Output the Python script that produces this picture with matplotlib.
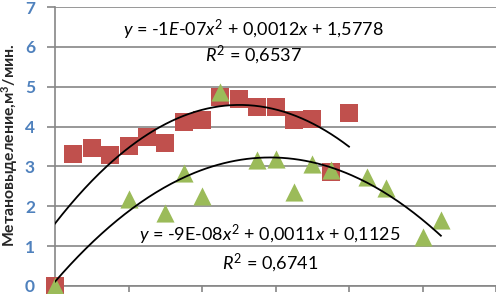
import numpy as np
import matplotlib
matplotlib.use("Agg")
import matplotlib.pyplot as plt

# Series 1 (red squares)
red_x = [0, 500, 1000, 1500, 2000, 2500, 3000, 3500, 4000, 4500, 5000,
         5500, 6000, 6500, 7000, 7500, 8000]
red_y = [0, 3.32, 3.46, 3.28, 3.52, 3.73, 3.58, 4.11, 4.17, 4.73, 4.69,
         4.48, 4.48, 4.17, 4.18, 2.86, 4.34]

# Series 2 (green triangles)
green_x = [0, 2000, 3000, 3500, 4000, 4500, 5500, 6000, 6500, 7000, 7500,
           8500, 9000, 10000, 10500]
green_y = [0, 2.19, 1.82, 2.83, 2.25, 4.86, 3.15, 3.19, 2.36, 3.07, 2.90,
           2.73, 2.47, 1.23, 1.65]

eq_red = "$y$ = -1$E$-07$x^2$ + 0,0012$x$ + 1,5778"
r2_red = "$R^2$ = 0,6537"
eq_green = "$y$ = -9E-08$x^2$ + 0,0011$x$ + 0,1125"
r2_green = "$R^2$ = 0,6741"

plt.rcParams['font.family'] = ['Lato', 'DejaVu Sans']
plt.rcParams['mathtext.fontset'] = 'custom'
plt.rcParams['mathtext.rm'] = 'Lato'
plt.rcParams['mathtext.it'] = 'Lato:italic'
plt.rcParams['mathtext.bf'] = 'Lato:bold'

fig = plt.figure(figsize=(4.96, 2.94), dpi=100)
ax = fig.add_axes([55 / 496, 8 / 294, 441 / 496, 279 / 294])

red = "#C0504D"
green = "#9BBB59"
grid = "#868686"

ax.scatter(red_x, red_y, marker="s", s=150, color=red, zorder=3,
           linewidths=0, clip_on=False)
ax.scatter(green_x, green_y, marker="^", s=170, color=green, zorder=4,
           linewidths=0, clip_on=False)

# polynomial trendlines (order 2)
for xs, ys in [(red_x, red_y), (green_x, green_y)]:
    c = np.polyfit(xs, ys, 2)
    xx = np.linspace(0, max(xs), 200)
    ax.plot(xx, np.polyval(c, xx), color="black", lw=1.3, zorder=5)

ax.set_xlim(0, 12000)
ax.set_ylim(0, 7)
ax.set_xticks(range(0, 12001, 2000))
ax.set_xticklabels([])
ax.set_yticks(range(0, 8))
ax.yaxis.grid(True, color=grid, lw=1.2)
ax.set_axisbelow(True)
for s in ["top", "right"]:
    ax.spines[s].set_visible(False)
for s in ["left", "bottom"]:
    ax.spines[s].set_color(grid)
    ax.spines[s].set_linewidth(1.2)
ax.tick_params(axis="x", color=grid, length=4.3, width=1.2)
ax.tick_params(axis="y", color=grid, length=5.8, width=1.2, labelsize=12.5,
               labelcolor="#4F81BD", pad=8.6)
for lab in ax.get_yticklabels():
    lab.set_fontweight("bold")

fig.text(10 / 496, 1 - 145 / 294, "Метановыделение,м$\\mathbf{^3}$/мин.",
         rotation=90, ha="center", va="center", fontsize=11.3,
         fontweight="bold", color="#262626")

ax.text(5390, 6.42, eq_red, ha="center", va="center", fontsize=13)
ax.text(5390, 5.8, r2_red, ha="center", va="center", fontsize=13)
ax.text(5850, 1.28, eq_green, ha="center", va="center", fontsize=13)
ax.text(5850, 0.6, r2_green, ha="center", va="center", fontsize=13)

fig.savefig("out.png", dpi=100)
